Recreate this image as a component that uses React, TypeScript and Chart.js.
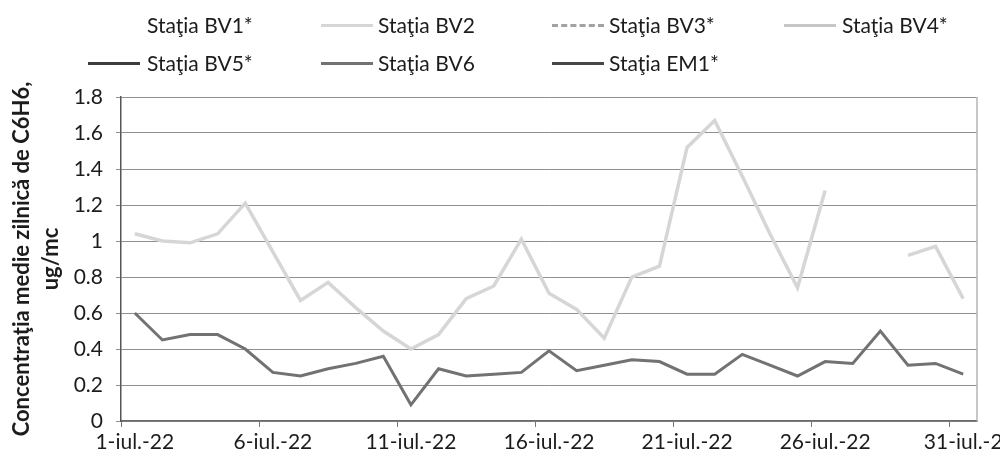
import React, { useEffect, useRef } from 'react';
import { Chart, registerables } from 'chart.js';

Chart.register(...registerables);

const categories = [
  '1-iul.-22', '2-iul.-22', '3-iul.-22', '4-iul.-22', '5-iul.-22', '6-iul.-22', '7-iul.-22', '8-iul.-22',
  '9-iul.-22', '10-iul.-22', '11-iul.-22', '12-iul.-22', '13-iul.-22', '14-iul.-22', '15-iul.-22', '16-iul.-22',
  '17-iul.-22', '18-iul.-22', '19-iul.-22', '20-iul.-22', '21-iul.-22', '22-iul.-22', '23-iul.-22', '24-iul.-22',
  '25-iul.-22', '26-iul.-22', '27-iul.-22', '28-iul.-22', '29-iul.-22', '30-iul.-22', '31-iul.-22',
];

const xTickLabels = ['1-iul.-22', '6-iul.-22', '11-iul.-22', '16-iul.-22', '21-iul.-22', '26-iul.-22', '31-iul.-2'];
const yTickLabels = ['0', '0.2', '0.4', '0.6', '0.8', '1', '1.2', '1.4', '1.6', '1.8'];

const bv1: (number | null)[] = [];
const bv2: (number | null)[] = [
  1.04, 1.0, 0.99, 1.04, 1.21, 0.94, 0.67, 0.77, 0.63, 0.5, 0.4, 0.48, 0.68, 0.75, 1.01, 0.71,
  0.62, 0.46, 0.8, 0.86, 1.52, 1.67, 1.36, 1.04, 0.74, 1.28, null, null, 0.92, 0.97, 0.68,
];
const bv3: (number | null)[] = [];
const bv4: (number | null)[] = [];
const bv5: (number | null)[] = [];
const bv6: (number | null)[] = [
  0.6, 0.45, 0.48, 0.48, 0.4, 0.27, 0.25, 0.29, 0.32, 0.36, 0.09, 0.29, 0.25, 0.26, 0.27, 0.39,
  0.28, 0.31, 0.34, 0.33, 0.26, 0.26, 0.37, 0.31, 0.25, 0.33, 0.32, 0.5, 0.31, 0.32, 0.26,
];
const em1: (number | null)[] = [];

const seriesNames = ['Staţia BV1*', 'Staţia BV2', 'Staţia BV3*', 'Staţia BV4*', 'Staţia BV5*', 'Staţia BV6', 'Staţia EM1*'];
const seriesData = [bv1, bv2, bv3, bv4, bv5, bv6, em1];
const seriesColors = ['#ffffff', '#d6d6d6', '#a2a2a2', '#c6c6c6', '#3c3c3c', '#727272', '#474747'];
const seriesDashed = [false, false, true, false, false, false, false];

const yTitle = ['Concentraţia medie zilnică de C6H6,', 'ug/mc'];

// legend layout (sample left x, text left x, row y center)
const legendSlots = [
  { sx: 88, tx: 147, y: 25 },
  { sx: 321, tx: 378, y: 25 },
  { sx: 552, tx: 609, y: 25 },
  { sx: 784, tx: 842, y: 25 },
  { sx: 88, tx: 147, y: 63 },
  { sx: 321, tx: 378, y: 63 },
  { sx: 552, tx: 609, y: 63 },
];

const FONT = 'Lato, "Open Sans", sans-serif';

export default function App() {
  const ref = useRef<HTMLCanvasElement | null>(null);

  useEffect(() => {
    if (!ref.current) return;
    const rightFrame = {
      id: 'rightFrame',
      afterDatasetsDraw(chart: any) {
        const { ctx, chartArea } = chart;
        ctx.save();
        ctx.strokeStyle = '#b5b5b5';
        ctx.lineWidth = 1.5;
        ctx.beginPath();
        ctx.moveTo(chartArea.right, chartArea.top);
        ctx.lineTo(chartArea.right, chartArea.bottom);
        ctx.stroke();
        ctx.restore();
      },
    };
    const chart = new Chart(ref.current, {
      type: 'line',
      data: {
        labels: categories,
        datasets: seriesNames.map((name, i) => ({
          label: name,
          data: seriesData[i],
          borderColor: seriesColors[i],
          backgroundColor: seriesColors[i],
          borderWidth: i === 1 ? 3.5 : 3,
          borderDash: seriesDashed[i] ? [3, 1] : [],
          pointRadius: 0,
          tension: 0,
          spanGaps: false,
          fill: false,
        })),
      },
      options: {
        animation: false,
        responsive: false,
        maintainAspectRatio: false,
        layout: { padding: { top: 97, right: 23, left: 0, bottom: 0 } },
        plugins: { legend: { display: false }, tooltip: { enabled: false } },
        scales: {
          x: {
            type: 'category',
            offset: true,
            grid: {
              offset: true,
              drawOnChartArea: false,
              drawTicks: true,
              tickLength: 6,
              color: (ctx: any) => (ctx.index % 5 === 0 ? '#777777' : 'rgba(0,0,0,0)'),
            },
            border: { color: '#6a6a6a', width: 1.5 },
            ticks: {
              autoSkip: false,
              maxRotation: 0,
              minRotation: 0,
              padding: 3,
              color: '#1c1c1c',
              font: { family: FONT, size: 21 },
              callback: (_v: any, i: number) => (i % 5 === 0 ? xTickLabels[i / 5] : ''),
            },
            afterFit: (s: any) => {
              s.height = 43;
              s.paddingLeft = 0;
              s.paddingRight = 0;
            },
          },
          y: {
            min: 0,
            max: 1.8,
            grid: { color: '#8f8f8f', lineWidth: 1, drawTicks: true, tickLength: 5 },
            border: { color: '#555555', width: 1.5 },
            ticks: {
              stepSize: 0.2,
              padding: 13,
              color: '#1c1c1c',
              font: { family: FONT, size: 21 },
              callback: (_v: any, i: number) => yTickLabels[i],
            },
            title: {
              display: true,
              text: yTitle,
              color: '#1c1c1c',
              font: { family: FONT, size: 22, weight: 'bold', lineHeight: 1.3 },
              padding: { top: 8, bottom: 0 },
            },
            afterFit: (s: any) => {
              s.width = 121;
            },
          },
        },
      },
      plugins: [rightFrame],
    } as any);
    return () => chart.destroy();
  }, []);

  return (
    <div style={{ position: 'fixed', left: 0, top: 0, width: 1000, height: 464, background: '#fff', overflow: 'hidden' }}>
      <canvas ref={ref} width={1000} height={464} style={{ position: 'absolute', left: 0, top: 0, width: 1000, height: 464 }} />
      {seriesNames.map((name, i) => (
        <React.Fragment key={name}>
          <div
            style={{
              position: 'absolute',
              left: legendSlots[i].sx,
              top: legendSlots[i].y - 1.5,
              width: 52,
              height: 0,
              borderTop: `3px ${seriesDashed[i] ? 'dashed' : 'solid'} ${seriesColors[i]}`,
            }}
          />
          <div
            style={{
              position: 'absolute',
              left: legendSlots[i].tx,
              top: legendSlots[i].y - 13,
              height: 26,
              lineHeight: '26px',
              fontFamily: FONT,
              fontSize: 21,
              color: '#1c1c1c',
              whiteSpace: 'nowrap',
            }}
          >
            {name}
          </div>
        </React.Fragment>
      ))}
    </div>
  );
}
